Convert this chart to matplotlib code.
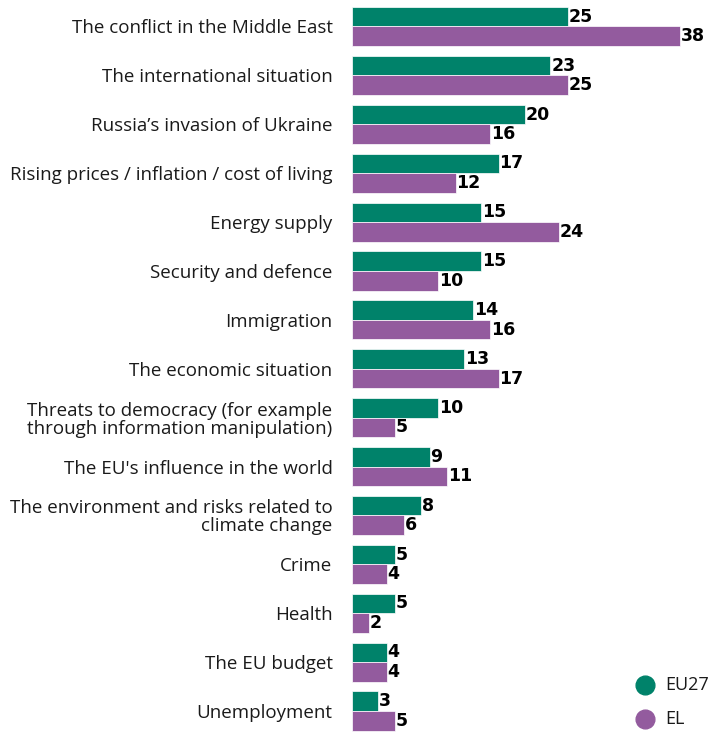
import matplotlib.pyplot as plt
from matplotlib.lines import Line2D
import numpy as np

plt.rcParams['font.family'] = ['Open Sans', 'DejaVu Sans']

categories = [
    'The conflict in the Middle East',
    'The international situation',
    "Russia\u2019s invasion of Ukraine",
    'Rising prices / inflation / cost of living',
    'Energy supply',
    'Security and defence',
    'Immigration',
    'The economic situation',
    'Threats to democracy (for example\nthrough information manipulation)',
    "The EU's influence in the world",
    'The environment and risks related to\nclimate change',
    'Crime',
    'Health',
    'The EU budget',
    'Unemployment',
]
eu27 = [25, 23, 20, 17, 15, 15, 14, 13, 10, 9, 8, 5, 5, 4, 3]
el = [38, 25, 16, 12, 24, 10, 16, 17, 5, 11, 6, 4, 2, 4, 5]
series_names = ['EU27', 'EL']

GREEN = '#00826a'
PURPLE = '#935b9e'

W, H = 714, 732
fig = plt.figure(figsize=(W / 100, H / 100), dpi=100)
ax = fig.add_axes([352 / W, 0, 1 - 352 / W, 1])

y = np.arange(len(categories))
h = 0.4
ax.barh(y - h / 2, eu27, height=h, color=GREEN, edgecolor='white', linewidth=0.5)
ax.barh(y + h / 2, el, height=h, color=PURPLE, edgecolor='white', linewidth=0.5)

for yi, v in zip(y, eu27):
    ax.text(v + 0.1, yi - h / 2, str(v), va='center', ha='left',
            fontsize=12.5, fontweight='bold', color='black', family='DejaVu Sans')
for yi, v in zip(y, el):
    ax.text(v + 0.1, yi + h / 2, str(v), va='center', ha='left',
            fontsize=12.5, fontweight='bold', color='black', family='DejaVu Sans')

ax.set_xlim(0, 41.95)
ax.set_ylim(14.43, -0.542)
ax.set_yticks(y)
ax.set_yticklabels(categories, fontsize=13.5, color='#1a1a1a', ha='right',
                   multialignment='right', linespacing=1.0)
ax.tick_params(axis='y', length=0, pad=14)
ax.set_xticks([])
for s in ax.spines.values():
    s.set_visible(False)

# legend: circles + labels placed in figure pixels
for name, col, py in zip(series_names, [GREEN, PURPLE], [685, 719]):
    fig.add_artist(Line2D([645 / W], [1 - py / H], transform=fig.transFigure,
                          marker='o', markersize=13.5, linestyle='',
                          markerfacecolor=col, markeredgecolor=col))
    fig.text(665 / W, 1 - py / H, name, fontsize=13, color='#1a1a1a',
             ha='left', va='center')

fig.savefig('out.png', dpi=100)
